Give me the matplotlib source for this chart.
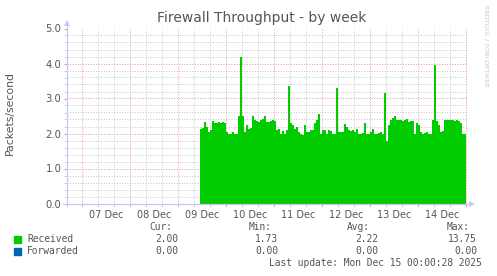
import numpy as np
import matplotlib
matplotlib.use("Agg")
import matplotlib.pyplot as plt

# ---------------- data ----------------
title = "Firewall Throughput - by week"
ylabel = "Packets/second"
day_labels = ["07 Dec", "08 Dec", "09 Dec", "10 Dec", "11 Dec", "12 Dec", "13 Dec", "14 Dec"]
day_numbers = [7, 8, 9, 10, 11, 12, 13, 14]
y_ticks = [0.0, 1.0, 2.0, 3.0, 4.0, 5.0]

# hourly values; first hour starts 09 Dec 11:00 (hours since 06 Dec 00:00 = 83)
data_start_hour = 83
received = [
    2.12, 2.15, 2.32, 2.20, 2.05, 2.10, 2.35, 2.30, 2.30, 2.34,
    2.30, 2.32, 2.30, 2.05, 2.00, 2.00, 2.04, 1.98, 2.00, 2.50,
    4.20, 2.50, 2.05, 2.25, 2.12, 2.15, 2.50, 2.40, 2.36, 2.34,
    2.40, 2.42, 2.50, 2.33, 2.33, 2.36, 2.38, 2.37, 2.10, 2.12,
    2.00, 2.08, 2.00, 2.10, 3.35, 2.30, 2.25, 2.12, 2.20, 2.05,
    2.00, 1.97, 2.25, 2.05, 2.05, 2.10, 2.10, 2.30, 2.38, 2.55,
    2.00, 2.10, 2.10, 2.00, 2.10, 2.08, 2.00, 2.00, 3.30, 2.05,
    2.05, 2.05, 2.28, 2.18, 2.10, 2.08, 2.10, 2.05, 2.12, 2.00,
    2.00, 2.02, 2.30, 2.00, 2.00, 2.05, 2.12, 2.00, 2.00, 2.02,
    2.05, 2.00, 3.15, 1.80, 2.25, 2.40, 2.45, 2.50, 2.40, 2.40,
    2.38, 2.36, 2.40, 2.42, 2.33, 2.35, 2.35, 2.00, 2.30, 2.25,
    2.05, 2.00, 2.02, 2.05, 2.00, 2.00, 2.40, 3.95, 2.35, 2.25,
    2.05, 2.08, 2.38, 2.38, 2.40, 2.38, 2.38, 2.37, 2.38, 2.36,
    2.30, 2.00, 2.00,
]
forwarded = [0.0] * len(received)

series_names = ["Received", "Forwarded"]
series_colors = ["#00CC00", "#0066B3"]
cur_vals = ["2.00", "0.00"]
min_vals = ["1.73", "0.00"]
avg_vals = ["2.22", "0.00"]
max_vals = ["13.75", "0.00"]
last_update = "Last update: Mon Dec 15 00:00:28 2025"
watermark = "RRDTOOL / TOBI OETIKER"

# ---------------- figure ----------------
W, H = 497, 276
fig = plt.figure(figsize=(W / 100, H / 100), dpi=100)
fig.patch.set_facecolor("white")

def fx(px):
    return px / W

def fy(py):
    return 1 - py / H

x0, x1 = 67, 467
y0, y1 = 203.5, 28.5
ax = fig.add_axes([fx(x0), fy(y0), (x1 - x0) / W, (y0 - y1) / H])
ax.set_facecolor("white")

xmin = 16.5
xmax = xmin + 200
ax.set_xlim(xmin, xmax)
ax.set_ylim(0, 5)

text_col = "#555555"
grid_col = "#C8C8C8"
mgrid_col = "#E89A9A"
axis_col = "#C5C8F0"

# grid
for v in np.arange(0.2, 5.01, 0.2):
    major = abs(v - round(v)) < 1e-6
    ax.axhline(v, color=mgrid_col if major else grid_col, lw=0.72,
               ls=(0, (1, 1.6)), zorder=0.5)
for h in np.arange(0, 217, 8):
    if h <= xmin:
        continue
    major = (h % 24) == 0
    ax.axvline(h, color=mgrid_col if major else grid_col, lw=0.72,
               ls=(0, (1, 1.6)), zorder=0.5)

edges = np.arange(data_start_hour, data_start_hour + len(received) + 1)
ax.stairs(received, edges, fill=True, color=series_colors[0], lw=0, zorder=2)
stack = np.array(received) + np.array(forwarded)
ax.stairs(stack, edges, baseline=np.array(received), fill=True,
          color=series_colors[1], lw=0, zorder=2)

for s in ax.spines.values():
    s.set_visible(False)

# ticks
ax.set_yticks(y_ticks)
ax.set_yticklabels([f"{v:.1f}" for v in y_ticks])
ax.set_yticks(np.arange(0, 5.01, 0.2), minor=True)
ax.set_xticks([24 * (d - 6) + 12 for d in day_numbers])
ax.set_xticklabels(day_labels)
ax.tick_params(axis="x", which="major", length=0, labelsize=7, labelcolor=text_col, pad=5)
ax.tick_params(axis="y", which="major", length=2, color=mgrid_col, labelsize=7.2,
               labelcolor=text_col, pad=2)
ax.tick_params(axis="y", which="minor", length=2, color=grid_col)

# x tick marks (below axis)
for h in np.arange(0, 217, 8):
    if h <= xmin:
        continue
    major = (h % 24) == 0
    ax.plot([h, h], [0, -0.06], color=mgrid_col if major else grid_col,
            lw=0.75, clip_on=False, zorder=3)

# axes with arrows
ax.plot([xmin - 2, xmax + 1.5], [0, 0], color=axis_col, lw=0.9, clip_on=False, zorder=3)
ax.plot([xmin, xmin], [-0.06, 5.12], color=axis_col, lw=0.9, clip_on=False, zorder=3)
ax.plot([xmax + 2.5], [0], marker=">", ms=4, color=axis_col, clip_on=False, zorder=3, mew=0)
ax.plot([xmin], [5.16], marker="^", ms=4, color=axis_col, clip_on=False, zorder=3, mew=0)

# title, labels
fig.text(fx(262), fy(18), title, ha="center", va="center", fontsize=10, color=text_col)
fig.text(fx(10), fy(113), ylabel, ha="center", va="center", rotation=90,
         fontsize=7.8, color=text_col)
fig.text(fx(486), fy(5), watermark, ha="center", va="top", rotation=270,
         fontsize=4.6, color="#C8C8C8")

# legend
mono = "DejaVu Sans Mono"
lfs = 6.9
head_y = 227
for label, xr in zip(["Cur:", "Min:", "Avg:", "Max:"], [172, 272, 370, 470]):
    fig.text(fx(xr), fy(head_y), label, ha="right", va="center",
             fontsize=lfs, family=mono, color=text_col)
rows_y = [239.5, 251.5]
for i, name in enumerate(series_names):
    yy = rows_y[i]
    fig.patches.append(plt.Rectangle((fx(14), fy(yy + 3.2)), 6.5 / W, 6.5 / H,
                                     transform=fig.transFigure, color=series_colors[i]))
    fig.text(fx(27), fy(yy), name, ha="left", va="center", fontsize=lfs,
             family=mono, color=text_col)
    for val, xr in zip([cur_vals[i], min_vals[i], avg_vals[i], max_vals[i]],
                       [178, 278, 378, 477]):
        fig.text(fx(xr), fy(yy), val, ha="right", va="center", fontsize=lfs,
                 family=mono, color=text_col)
fig.text(fx(482), fy(263.5), last_update, ha="right", va="center", fontsize=lfs,
         family=mono, color=text_col)

fig.savefig("out.png", dpi=100, facecolor="white")
